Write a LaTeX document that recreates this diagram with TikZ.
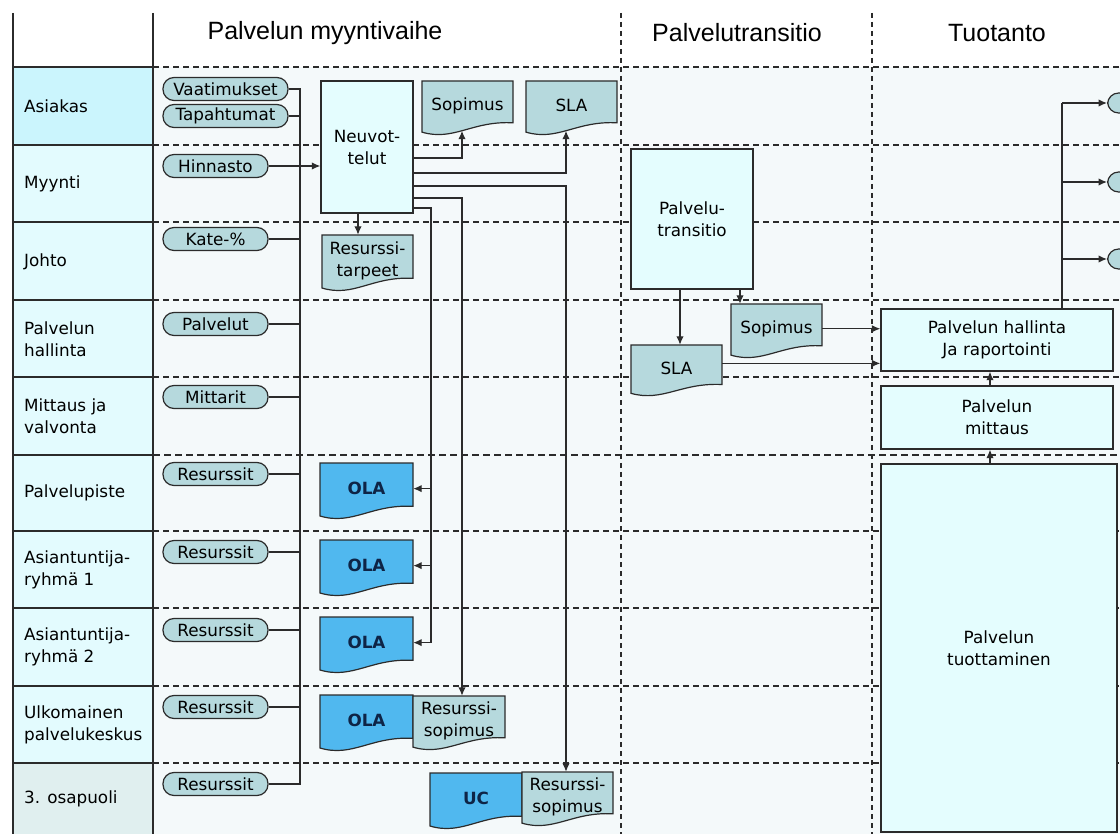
\documentclass[tikz,border=0pt]{standalone}
\usepackage{fontspec}
\setmainfont{DejaVu Sans}
\newfontfamily\headfont{Liberation Sans}
\usetikzlibrary{arrows.meta}

\definecolor{linec}{HTML}{2B2B2B}
\definecolor{areabg}{HTML}{F4F9FA}
\definecolor{lanec}{HTML}{E3FBFE}
\definecolor{custc}{HTML}{CBF5FD}
\definecolor{thirdc}{HTML}{E0EFEF}
\definecolor{boxc}{HTML}{E4FDFE}
\definecolor{pillc}{HTML}{B6D9DD}
\definecolor{olac}{HTML}{50B8EF}
\definecolor{olatext}{HTML}{0E2446}

\newcommand{\bodyf}{\fontsize{16.8}{22}\selectfont}
\newcommand{\headf}{\headfont\fontsize{25}{30}\selectfont}

% document symbol: #1 name, #2 x, #3 y (top left), #4 width, #5 height,
% #6 fill, #7 extra text style, #8 text
\newcommand{\docnode}[8]{%
  \filldraw[fill=#6, draw=linec, line width=1.2pt]
    (#2,#3) -- (#2+#4,#3) -- (#2+#4,#3+0.76*#5)
    .. controls (#2+0.55*#4,#3+0.72*#5) and (#2+0.35*#4,#3+1.1*#5) .. (#2,#3+0.93*#5) -- cycle;
  \node[doctext, #7, minimum width=#4pt, minimum height=0.9*#5pt] (#1) at (#2+0.5*#4,#3+0.45*#5) {#8};
}

\begin{document}
\begin{tikzpicture}[x=1pt,y=-1pt,
  conn/.style={draw=linec, line width=1.4pt},
  arr/.style={conn, -{Latex[length=8.5pt,width=7.5pt]}},
  pill/.style={draw=linec, fill=pillc, line width=1.2pt, rounded corners=11pt,
    minimum height=23pt, inner sep=0pt, font=\bodyf},
  procbox/.style={draw=linec, fill=boxc, line width=1.3pt, inner sep=0pt,
    align=center, font=\bodyf},
  lanelabel/.style={anchor=west, align=left, inner sep=0pt, font=\bodyf},
  lanehead/.style={font=\headf, inner sep=0pt},
  doctext/.style={inner sep=0pt, align=center, font=\bodyf},
  olatxt/.style={font=\fontsize{16.8}{20}\selectfont\bfseries, text=olatext},
  gridsolid/.style={draw=linec, line width=1.5pt},
  griddash/.style={draw=linec, line width=1.4pt, dash pattern=on 6pt off 4pt},
]
\useasboundingbox (0,0) rectangle (1120,834);
\clip (0,0) rectangle (1120,834);

% backgrounds
\fill[white] (0,0) rectangle (1120,834);
\fill[areabg] (153,67) rectangle (1120,834);
\fill[custc] (13,67) rectangle (153,145);
\fill[lanec] (13,145) rectangle (153,763);
\fill[thirdc] (13,763) rectangle (153,834);

% lane separators
\foreach \yy in {67,145,222,300,377,531,608,686,763} {
  \draw[gridsolid] (13,\yy) -- (153,\yy);
  \draw[griddash] (153,\yy) -- (1120,\yy);
}
\draw[gridsolid] (13,455) -- (153,455);
\draw[griddash, line width=2.8pt, dash pattern=on 7pt off 4pt] (153,455) -- (1120,455);

% phase separators
\draw[griddash, line width=1.2pt, dash pattern=on 5pt off 4pt] (621,13) -- (621,834);
\draw[griddash, line width=1.2pt, dash pattern=on 5pt off 4pt] (872,13) -- (872,834);
\draw[gridsolid] (13,13) -- (13,834);
\draw[gridsolid] (153,13) -- (153,834);

% phase headings
\node[lanehead] (h1) at (325,33) {Palvelun myyntivaihe};
\node[lanehead] (h2) at (737,33) {Palvelutransitio};
\node[lanehead] (h3) at (997,33) {Tuotanto};

% lane labels
\node[lanelabel] (l1) at (24,106) {Asiakas};
\node[lanelabel] (l2) at (24,184) {Myynti};
\node[lanelabel] (l3) at (24,262) {Johto};
\node[lanelabel] (l4) at (24,339) {Palvelun\\hallinta};
\node[lanelabel] (l5) at (24,416) {Mittaus ja\\valvonta};
\node[lanelabel] (l6) at (24,493) {Palvelupiste};
\node[lanelabel] (l7) at (24,570) {Asiantuntija-\\ryhmä 1};
\node[lanelabel] (l8) at (24,647) {Asiantuntija-\\ryhmä 2};
\node[lanelabel] (l9) at (24,725) {Ulkomainen\\palvelukeskus};
\node[lanelabel] (l10) at (24,799) {3. osapuoli};

% inputs
\node[pill, minimum width=125pt] (vaa) at (225.5,89) {Vaatimukset};
\node[pill, minimum width=125pt] (tap) at (225.5,116) {Tapahtumat};
\node[pill, minimum width=105pt] (hin) at (215.5,166) {Hinnasto};
\node[pill, minimum width=105pt] (kat) at (215.5,239) {Kate-\%};
\node[pill, minimum width=105pt] (pal) at (215.5,324) {Palvelut};
\node[pill, minimum width=105pt] (mtr) at (215.5,397) {Mittarit};
\node[pill, minimum width=105pt] (r1) at (215.5,474) {Resurssit};
\node[pill, minimum width=105pt] (r2) at (215.5,552) {Resurssit};
\node[pill, minimum width=105pt] (r3) at (215.5,630) {Resurssit};
\node[pill, minimum width=105pt] (r4) at (215.5,707) {Resurssit};
\node[pill, minimum width=105pt] (r5) at (215.5,784) {Resurssit};

% sales phase
\node[procbox, minimum width=92pt, minimum height=132pt] (neu) at (367,147) {Neuvot-\\telut};
\docnode{sop1}{422}{81}{91}{55}{pillc}{}{Sopimus}
\docnode{sla1}{526}{81}{91}{55}{pillc}{}{SLA}
\docnode{rt}{322}{235}{91}{57}{pillc}{}{Resurssi-\\tarpeet}
\docnode{ola1}{320}{463}{93}{57}{olac}{olatxt}{OLA}
\docnode{ola2}{320}{540}{93}{57}{olac}{olatxt}{OLA}
\docnode{ola3}{320}{617}{93}{57}{olac}{olatxt}{OLA}
\docnode{ola4}{320}{695}{93}{57}{olac}{olatxt}{OLA}
\docnode{rs1}{413}{696}{92}{55}{pillc}{}{Resurssi-\\sopimus}
\docnode{uc}{430}{773}{92}{57}{olac}{olatxt}{UC}
\docnode{rs2}{522}{772}{91}{55}{pillc}{}{Resurssi-\\sopimus}

% transition phase
\node[procbox, minimum width=122pt, minimum height=140pt] (pt) at (692,219) {Palvelu-\\transitio};
\docnode{sop2}{731}{304}{91}{55}{pillc}{}{Sopimus}
\docnode{sla2}{631}{345}{91}{52}{pillc}{}{SLA}

% production phase
\node[procbox, minimum width=232pt, minimum height=62pt] (hal) at (997,340) {Palvelun hallinta\\Ja raportointi};
\node[procbox, minimum width=232pt, minimum height=63pt] (mitt) at (997,417.5) {Palvelun\\mittaus};
\node[procbox, minimum width=236pt, minimum height=368pt] (tuo) at (999,648) {Palvelun\\tuottaminen};
\node[pill, anchor=west, minimum width=50pt, minimum height=20pt] (o1) at (1107,103) {};
\node[pill, anchor=west, minimum width=50pt, minimum height=20pt] (o2) at (1107,182) {};
\node[pill, anchor=west, minimum width=50pt, minimum height=20pt] (o3) at (1107,259) {};

% input collector
\coordinate (busend) at (300,784);
\draw[conn] (vaa.east) -| (busend) -- (r5.east);
\foreach \n in {tap,kat,pal,mtr,r1,r2,r3,r4}
  \draw[conn] (\n.east) -- (\n.east -| busend);
\draw[arr] (hin.east) -- (hin.east -| neu.west);

% negotiation outputs
\coordinate (vs) at (462,0);
\coordinate (vx) at (566,0);
\coordinate (olabus) at (431,0);
\draw[arr] ([yshift=-11pt]neu.east) -| (vs |- sop1.south);
\draw[arr] ([yshift=-26pt]neu.east) -| (vx |- sla1.south);
\draw[arr] ([yshift=-39pt]neu.east) -| (vx |- rs2.north);
\draw[arr] ([yshift=-51pt]neu.east) -| (vs |- rs1.north);
\draw[conn] ([yshift=-61pt]neu.east) -| (olabus |- ola3.east);
\foreach \n in {ola1,ola2,ola3}
  \draw[arr] (olabus |- \n.east) -- (\n.east);
\draw[arr] ([xshift=-9pt]neu.south) -- ([xshift=-9pt]neu.south |- rt.north);

% transition outputs
\draw[arr] ([xshift=-12pt]pt.south) -- ([xshift=-12pt]pt.south |- sla2.north);
\draw[arr] ([xshift=48pt]pt.south) -- ([xshift=48pt]pt.south |- sop2.north);
\draw[arr] (sop2.east) -- (sop2.east -| hal.west);
\draw[arr] ([yshift=5pt]sla2.east) -- ([yshift=5pt]sla2.east -| hal.west);

% production chain
\draw[arr] ([xshift=-7pt]mitt.north) -- ([xshift=-7pt]mitt.north |- hal.south);
\draw[arr] ([xshift=-9pt]tuo.north) -- ([xshift=-9pt]tuo.north |- mitt.south);
\coordinate (outx) at (1062,0);
\draw[conn] (outx |- hal.north) -- (outx |- o1.west);
\foreach \n in {o1,o2,o3}
  \draw[arr] (outx |- \n.west) -- (\n.west);
\end{tikzpicture}
\end{document}
